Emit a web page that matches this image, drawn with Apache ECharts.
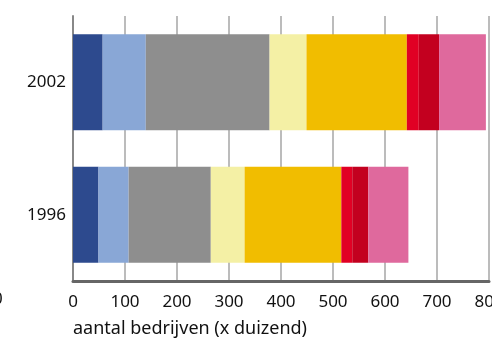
<!DOCTYPE html>
<html>
<head>
<meta charset="utf-8">
<script src="https://cdn.jsdelivr.net/npm/echarts@6/dist/echarts.min.js"></script>
<style>
  html, body { margin: 0; padding: 0; background: #fff; }
  #chart { width: 492px; height: 344px; }
</style>
</head>
<body>
<div id="chart"></div>
<script>
// Years on the category axis (bottom to top)
const years = ['1996', '2002'];

// Number of firms per segment (x 1000), [1996, 2002]
const seg1 = [49, 57];
const seg2 = [58, 83];
const seg3 = [158, 238];
const seg4 = [65, 71];
const seg5 = [186, 193];
const seg6 = [21, 23];
const seg7 = [31, 39];
const seg8 = [77, 90];

const xTicks = [0, 100, 200, 300, 400, 500, 600, 700, 800];
const axisTitle = 'aantal bedrijven (x duizend)';

const segments = [seg1, seg2, seg3, seg4, seg5, seg6, seg7, seg8];
const colors = ['#2d4a8e', '#89a7d6', '#8e8e8e', '#f4f0a5', '#f1bd00', '#e10024', '#c3001f', '#df699d'];

const FONT = '"Noto Sans", "Open Sans", sans-serif';

const chart = echarts.init(document.getElementById('chart'), null, { renderer: 'canvas' });
chart.setOption({
  animation: false,
  grid: { left: 73, right: 3, top: 16, bottom: 63, containLabel: false, outerBoundsMode: 'none' },
  xAxis: {
    type: 'value',
    min: xTicks[0],
    max: xTicks[xTicks.length - 1],
    interval: 100,
    axisLine: { show: true, lineStyle: { color: '#666', width: 3 } },
    axisTick: { show: false },
    axisLabel: { color: '#111', fontSize: 17, fontFamily: FONT, margin: 13, hideOverlap: false },
    splitLine: { show: true, lineStyle: { color: '#a6a6a6', width: 1.5 } }
  },
  yAxis: {
    type: 'category',
    data: years,
    axisLine: { show: true, lineStyle: { color: '#888', width: 2 } },
    axisTick: { show: false },
    axisLabel: { color: '#111', fontSize: 17, fontFamily: FONT, margin: 7 }
  },
  series: segments.map((vals, i) => ({
    name: 'segment ' + (i + 1),
    type: 'bar',
    stack: 'total',
    data: vals,
    barWidth: 96,
    itemStyle: { color: colors[i] }
  })),
  graphic: [
    {
      type: 'text',
      left: 73,
      top: 320,
      style: { text: axisTitle, fill: '#111', fontSize: 18, fontFamily: FONT }
    },
    {
      type: 'text',
      left: -7,
      top: 291,
      style: { text: '0', fill: '#111', fontSize: 17, fontFamily: FONT }
    }
  ]
});
</script>
</body>
</html>
